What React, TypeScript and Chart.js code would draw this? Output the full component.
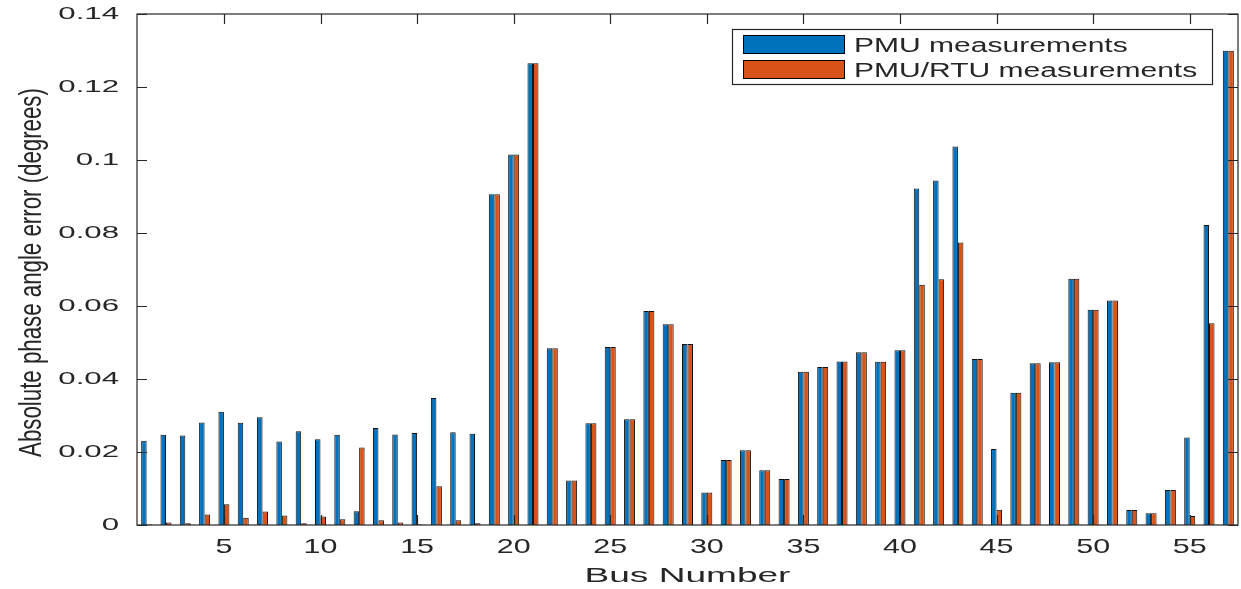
import React, { useEffect, useRef } from 'react';
import { Chart, registerables } from 'chart.js';

Chart.register(...registerables);

const busNumbers = [
  1, 2, 3, 4, 5, 6, 7, 8, 9, 10, 11, 12, 13, 14, 15, 16, 17, 18, 19, 20,
  21, 22, 23, 24, 25, 26, 27, 28, 29, 30, 31, 32, 33, 34, 35, 36, 37, 38, 39, 40,
  41, 42, 43, 44, 45, 46, 47, 48, 49, 50, 51, 52, 53, 54, 55, 56, 57,
];

const pmuErrors = [
  0.0231, 0.0247, 0.0245, 0.0281, 0.031, 0.028, 0.0295, 0.0229, 0.0257, 0.0235,
  0.0247, 0.0038, 0.0266, 0.0248, 0.0252, 0.0348, 0.0254, 0.025, 0.0906, 0.1015,
  0.1265, 0.0484, 0.0122, 0.0279, 0.0488, 0.029, 0.0586, 0.055, 0.0496, 0.0089,
  0.0178, 0.0205, 0.015, 0.0126, 0.042, 0.0433, 0.0448, 0.0473, 0.0447, 0.0479,
  0.0922, 0.0944, 0.1037, 0.0455, 0.0208, 0.0362, 0.0443, 0.0446, 0.0675, 0.059,
  0.0615, 0.0041, 0.0032, 0.0096, 0.024, 0.0822, 0.1299,
];

const pmuRtuErrors = [
  0.0002, 0.0007, 0.0005, 0.0029, 0.0057, 0.002, 0.0037, 0.0026, 0.0005, 0.0023,
  0.0016, 0.0212, 0.0013, 0.0007, 0.0002, 0.0106, 0.0013, 0.0005, 0.0906, 0.1015,
  0.1265, 0.0484, 0.0122, 0.0279, 0.0488, 0.029, 0.0586, 0.055, 0.0496, 0.0089,
  0.0178, 0.0205, 0.015, 0.0126, 0.042, 0.0433, 0.0448, 0.0473, 0.0447, 0.0479,
  0.0658, 0.0673, 0.0774, 0.0455, 0.0042, 0.0362, 0.0443, 0.0446, 0.0675, 0.059,
  0.0615, 0.0041, 0.0032, 0.0096, 0.0025, 0.0553, 0.1299,
];

const xTickBuses = [5, 10, 15, 20, 25, 30, 35, 40, 45, 50, 55];
const yTickValues = [0, 0.02, 0.04, 0.06, 0.08, 0.1, 0.12, 0.14];
const yTickLabels = ['0', '0.02', '0.04', '0.06', '0.08', '0.1', '0.12', '0.14'];

const seriesNames = ['PMU measurements', 'PMU/RTU measurements'];
const seriesColors = ['#0072BD', '#D95319'];

const xTitle = 'Bus Number';
const yTitle = 'Absolute phase angle error (degrees)';

const TEXT = '#262626';
const FONT = '"Liberation Sans", Arial, sans-serif';

function drawText(
  ctx: CanvasRenderingContext2D,
  text: string,
  x: number,
  y: number,
  size: number,
  sx: number,
  align: CanvasTextAlign,
  baseline: CanvasTextBaseline,
  rotate = 0
) {
  ctx.save();
  ctx.font = `${size}px ${FONT}`;
  ctx.fillStyle = TEXT;
  ctx.textAlign = align;
  ctx.textBaseline = baseline;
  ctx.translate(x, y);
  if (rotate) ctx.rotate(rotate);
  ctx.scale(sx, 1);
  ctx.fillText(text, 0, 0);
  ctx.restore();
}

const decorPlugin = {
  id: 'matlabDecor',
  afterDraw(chart: any) {
    const ctx: CanvasRenderingContext2D = chart.ctx;
    const { left, right, top, bottom } = chart.chartArea;
    const xs = chart.scales.x;
    const ys = chart.scales.y;
    const tick = 10;

    ctx.save();
    ctx.strokeStyle = TEXT;
    ctx.lineWidth = 1.2;
    ctx.strokeRect(left, top, right - left, bottom - top);
    ctx.beginPath();
    yTickValues.forEach((v) => {
      const py = Math.round(ys.getPixelForValue(v)) + 0.5;
      ctx.moveTo(left, py);
      ctx.lineTo(left + tick, py);
      ctx.moveTo(right, py);
      ctx.lineTo(right - tick, py);
    });
    xTickBuses.forEach((b) => {
      const px = Math.round(xs.getPixelForValue(busNumbers.indexOf(b))) + 0.5;
      ctx.moveTo(px, bottom);
      ctx.lineTo(px, bottom - tick);
      ctx.moveTo(px, top);
      ctx.lineTo(px, top + tick);
    });
    ctx.stroke();
    ctx.restore();

    yTickValues.forEach((v, i) => {
      const py = ys.getPixelForValue(v);
      drawText(ctx, yTickLabels[i], 119, py + 1, 16, 1.95, 'right', 'middle');
    });
    xTickBuses.forEach((b) => {
      const px = xs.getPixelForValue(busNumbers.indexOf(b));
      drawText(ctx, String(b), px, 553, 21, 1.45, 'center', 'alphabetic');
    });
    drawText(ctx, xTitle, (left + right) / 2, 582, 19.5, 1.9, 'center', 'alphabetic');
    drawText(ctx, yTitle, 41, (top + bottom) / 2 + 3, 30.5, 0.73, 'center', 'alphabetic', -Math.PI / 2);

    ctx.save();
    ctx.fillStyle = '#ffffff';
    ctx.fillRect(732.5, 29.5, 480, 55);
    ctx.strokeStyle = TEXT;
    ctx.lineWidth = 1.2;
    ctx.strokeRect(732.5, 29.5, 480, 55);
    const rows = [35, 60];
    seriesNames.forEach((name, i) => {
      ctx.fillStyle = seriesColors[i];
      ctx.fillRect(743.5, rows[i] + 0.5, 101, 18);
      ctx.strokeStyle = '#000000';
      ctx.lineWidth = 1;
      ctx.strokeRect(743.5, rows[i] + 0.5, 101, 18);
    });
    ctx.restore();
    drawText(ctx, seriesNames[0], 854, 52, 19.5, 1.54, 'left', 'alphabetic');
    drawText(ctx, seriesNames[1], 854, 77, 19.5, 1.54, 'left', 'alphabetic');
  },
};

export default function App() {
  const canvasRef = useRef<HTMLCanvasElement | null>(null);

  useEffect(() => {
    document.body.style.margin = '0';
    const canvas = canvasRef.current;
    if (!canvas) return;
    const chart = new Chart(canvas, {
      type: 'bar',
      data: {
        labels: busNumbers.map(String),
        datasets: [
          {
            label: seriesNames[0],
            data: pmuErrors,
            backgroundColor: seriesColors[0],
            borderColor: '#111111',
            borderWidth: 1,
            categoryPercentage: 0.57,
            barPercentage: 1.0,
          },
          {
            label: seriesNames[1],
            data: pmuRtuErrors,
            backgroundColor: seriesColors[1],
            borderColor: '#111111',
            borderWidth: 1,
            categoryPercentage: 0.57,
            barPercentage: 1.0,
          },
        ],
      },
      options: {
        responsive: false,
        animation: false,
        devicePixelRatio: 1,
        layout: { padding: { top: 14, right: 3, left: 0, bottom: 0 } },
        plugins: {
          legend: { display: false },
          tooltip: { enabled: false },
        },
        scales: {
          x: {
            type: 'category',
            offset: true,
            grid: { display: false },
            border: { display: false },
            ticks: { display: false },
            afterFit: (s: any) => {
              s.height = 64;
            },
          },
          y: {
            min: 0,
            max: 0.14,
            grid: { display: false },
            border: { display: false },
            ticks: { display: false, stepSize: 0.02 },
            afterFit: (s: any) => {
              s.width = 137;
            },
          },
        },
      },
      plugins: [decorPlugin],
    } as any);
    return () => chart.destroy();
  }, []);

  return (
    <div style={{ width: 1241, height: 589, background: '#fff' }}>
      <canvas ref={canvasRef} width={1241} height={589} style={{ display: 'block' }} />
    </div>
  );
}
